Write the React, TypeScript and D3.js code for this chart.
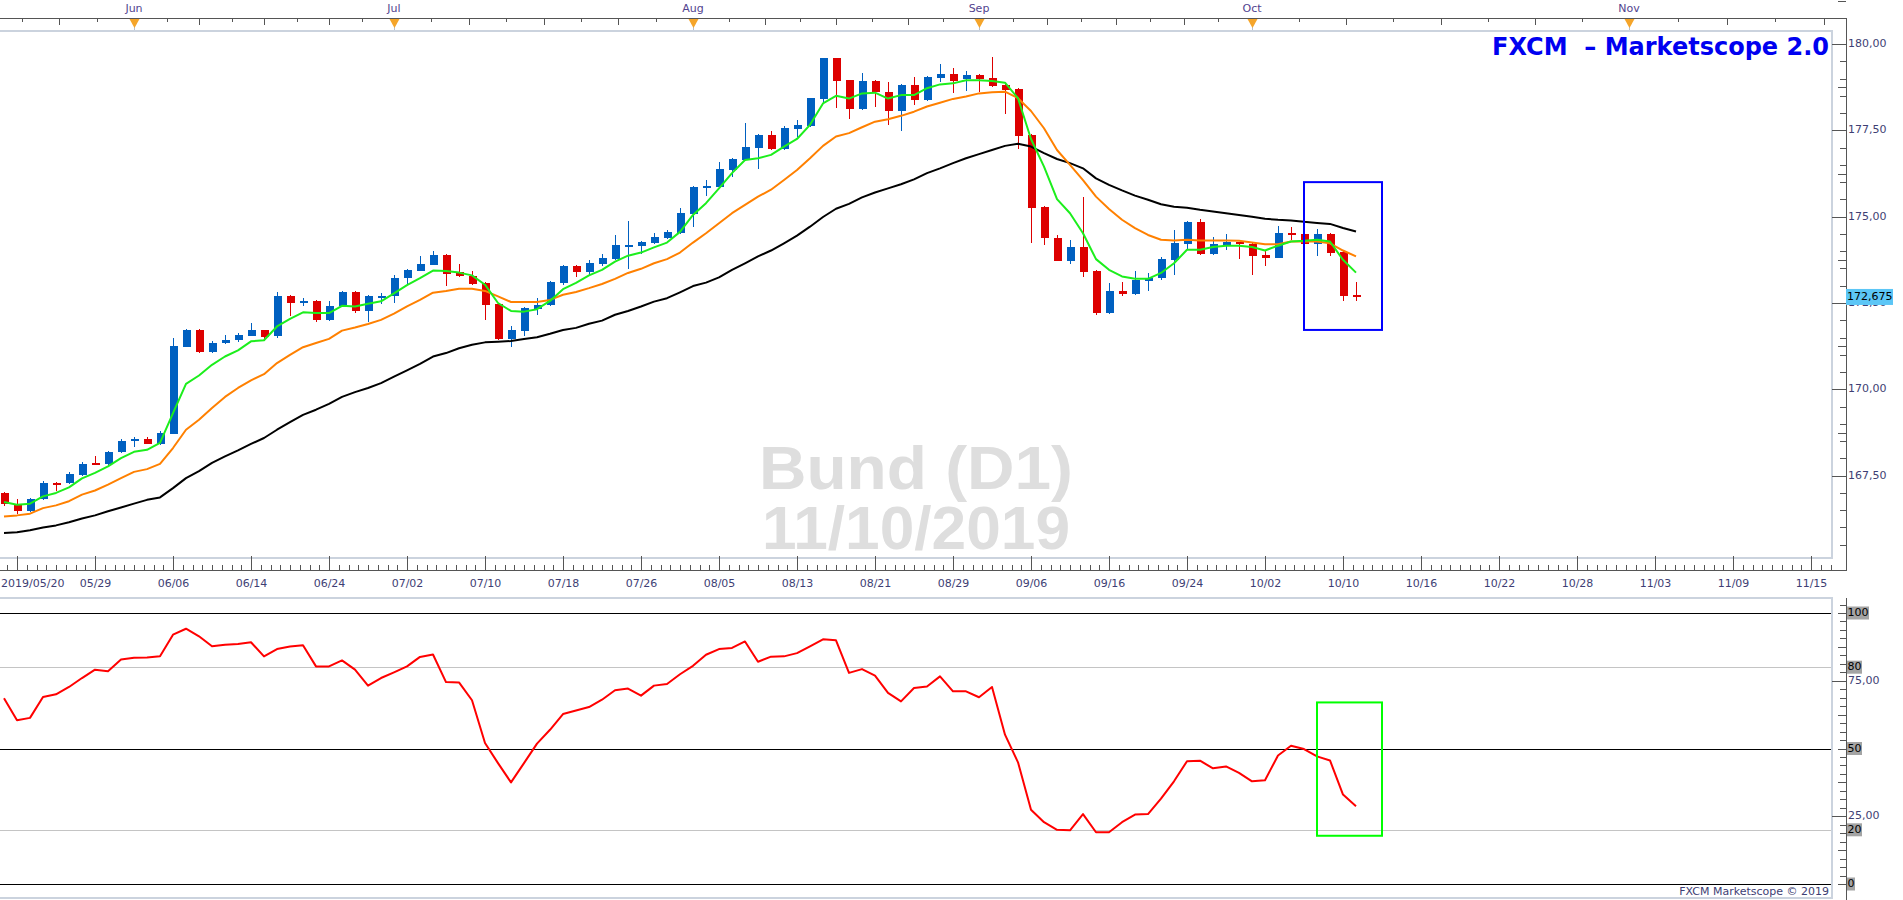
import React, { useEffect, useRef } from 'react';
import * as d3 from 'd3';

// daily bars, weekdays only, 2019-05-20 .. 2019-10-11
const firstDay = new Date(2019, 4, 20);
const lastDay = new Date(2019, 9, 11);
const barDates = d3.timeDay
  .range(firstDay, d3.timeDay.offset(lastDay, 1))
  .filter(d => d.getDay() !== 0 && d.getDay() !== 6);

const open = [
  167.00, 166.64, 166.47, 166.81, 167.30, 167.28, 167.53, 167.86, 167.83, 168.18,
  168.49, 168.57, 168.43, 168.72, 171.24, 171.72, 171.07, 171.33, 171.42, 171.55,
  171.72, 171.53, 172.71, 172.49, 172.56, 172.01, 172.42, 172.82, 172.28, 172.69,
  172.69, 173.21, 173.44, 173.61, 173.89, 173.39, 173.27, 173.08, 172.47, 171.46,
  171.70, 172.32, 172.43, 173.09, 173.58, 173.40, 173.63, 173.78, 174.15, 174.16,
  174.24, 174.39, 174.53, 175.08, 175.86, 175.86, 176.35, 176.64, 177.00, 177.37,
  176.96, 177.54, 177.63, 178.41, 179.59, 178.96, 178.12, 178.93, 178.61, 178.06,
  178.81, 178.38, 179.02, 179.13, 178.99, 179.10, 179.02, 178.81, 178.70, 177.37,
  175.28, 174.39, 173.73, 174.13, 173.43, 172.20, 172.85, 172.75, 173.15, 173.21,
  173.75, 174.21, 174.85, 173.92, 174.18, 174.27, 174.21, 173.89, 173.81, 174.53,
  174.50, 174.21, 174.50, 173.98, 172.74,
];
const high = [
  167.04, 166.83, 166.85, 167.36, 167.31, 167.62, 167.89, 168.08, 168.20, 168.57,
  168.63, 168.63, 168.78, 171.49, 171.75, 171.74, 171.39, 171.58, 171.63, 171.93,
  171.73, 172.82, 172.72, 172.65, 172.58, 172.56, 172.85, 172.84, 172.72, 172.80,
  173.30, 173.48, 173.87, 174.01, 173.92, 173.63, 173.42, 173.10, 172.50, 171.84,
  172.37, 172.65, 173.13, 173.60, 173.60, 173.75, 173.92, 174.47, 174.88, 174.30,
  174.53, 174.62, 175.25, 175.90, 176.06, 176.59, 176.70, 177.71, 177.40, 177.48,
  177.63, 177.80, 178.45, 179.60, 179.60, 178.97, 179.16, 178.95, 178.90, 178.83,
  179.05, 179.07, 179.42, 179.31, 179.22, 179.12, 179.62, 178.83, 178.72, 177.40,
  175.30, 174.47, 174.33, 175.57, 173.45, 173.08, 173.11, 173.43, 173.37, 173.84,
  174.62, 174.87, 174.94, 174.42, 174.50, 174.28, 174.23, 174.01, 174.73, 174.70,
  174.70, 174.65, 174.52, 174.00, 173.11,
];
const low = [
  166.61, 166.40, 166.45, 166.79, 167.05, 167.25, 167.50, 167.83, 167.82, 168.16,
  168.33, 168.42, 168.38, 168.70, 171.22, 171.05, 171.04, 171.32, 171.38, 171.53,
  171.44, 171.50, 172.11, 172.40, 171.94, 171.98, 172.40, 172.20, 171.94, 172.48,
  172.49, 173.06, 173.42, 173.60, 172.98, 173.25, 173.02, 172.01, 171.44, 171.24,
  171.53, 172.16, 172.40, 173.03, 173.26, 173.32, 173.58, 173.75, 173.49, 173.92,
  174.20, 174.36, 174.50, 174.71, 175.61, 175.84, 176.16, 176.62, 176.38, 176.92,
  176.93, 177.31, 177.60, 178.32, 178.15, 177.83, 178.10, 178.18, 177.66, 177.48,
  178.24, 178.36, 178.90, 178.58, 178.64, 178.61, 178.75, 177.97, 176.96, 174.24,
  174.18, 173.71, 173.63, 173.24, 172.16, 172.18, 172.69, 172.73, 172.86, 173.18,
  173.30, 174.07, 173.90, 173.90, 174.04, 173.78, 173.32, 173.58, 173.79, 174.33,
  174.18, 173.87, 173.85, 172.56, 172.56,
];
const close = [
  166.68, 166.47, 166.83, 167.30, 167.28, 167.56, 167.85, 167.84, 168.19, 168.51,
  168.57, 168.43, 168.74, 171.26, 171.72, 171.07, 171.35, 171.44, 171.58, 171.72,
  171.52, 172.71, 172.49, 172.57, 172.02, 172.42, 172.82, 172.28, 172.70, 172.71,
  173.23, 173.46, 173.63, 173.89, 173.35, 173.27, 173.06, 172.45, 171.46, 171.72,
  172.35, 172.45, 173.11, 173.58, 173.40, 173.66, 173.81, 174.18, 174.17, 174.27,
  174.42, 174.56, 175.11, 175.86, 175.88, 176.38, 176.67, 177.02, 177.37, 176.96,
  177.57, 177.66, 178.44, 179.59, 178.93, 178.12, 178.93, 178.61, 178.06, 178.81,
  178.38, 179.05, 179.13, 178.93, 179.10, 178.99, 178.78, 178.67, 177.34, 175.25,
  174.37, 173.73, 174.13, 173.41, 172.20, 172.85, 172.75, 173.17, 173.22, 173.78,
  174.24, 174.85, 173.92, 174.21, 174.27, 174.21, 173.87, 173.81, 174.53, 174.47,
  174.21, 174.50, 173.95, 172.71, 172.675,
];

// moving averages (green, orange, black)
const maFast = [
  166.74, 166.66, 166.69, 166.90, 167.00, 167.16, 167.42, 167.58, 167.77, 168.01,
  168.19, 168.25, 168.45, 169.31, 170.16, 170.40, 170.71, 170.95, 171.13, 171.39,
  171.42, 171.82, 172.04, 172.23, 172.21, 172.21, 172.42, 172.40, 172.48, 172.55,
  172.78, 173.02, 173.22, 173.44, 173.43, 173.38, 173.30, 173.03, 172.50, 172.27,
  172.25, 172.32, 172.56, 172.90, 173.08, 173.30, 173.46, 173.70, 173.87, 173.96,
  174.11, 174.25, 174.56, 175.05, 175.39, 175.82, 176.26, 176.64, 176.69, 176.79,
  177.03, 177.25, 177.66, 178.28, 178.50, 178.42, 178.57, 178.59, 178.42, 178.52,
  178.52, 178.72, 178.83, 178.86, 178.95, 178.95, 178.93, 178.88, 178.43, 177.25,
  176.45, 175.51, 175.10, 174.52, 173.77, 173.46, 173.27, 173.20, 173.20, 173.37,
  173.65, 174.04, 174.04, 174.12, 174.16, 174.16, 174.12, 174.02, 174.16, 174.28,
  174.30, 174.33, 174.28, 173.75, 173.38,
];
const maMid = [
  166.32, 166.35, 166.40, 166.56, 166.64, 166.76, 166.95, 167.07, 167.24, 167.43,
  167.61, 167.69, 167.84, 168.30, 168.83, 169.12, 169.46, 169.78, 170.04, 170.26,
  170.44, 170.76, 171.00, 171.22, 171.34, 171.46, 171.70, 171.79, 171.89, 172.01,
  172.19, 172.40, 172.59, 172.80, 172.85, 172.91, 172.91, 172.85, 172.69, 172.53,
  172.53, 172.53, 172.59, 172.74, 172.82, 172.93, 173.05, 173.20, 173.37, 173.49,
  173.65, 173.77, 173.96, 174.25, 174.52, 174.81, 175.10, 175.34, 175.58, 175.78,
  176.06, 176.35, 176.69, 177.05, 177.32, 177.42, 177.59, 177.75, 177.82, 177.92,
  178.04, 178.19, 178.30, 178.41, 178.48, 178.57, 178.60, 178.62, 178.43, 178.06,
  177.56, 176.93, 176.50, 176.06, 175.58, 175.22, 174.91, 174.67, 174.47, 174.33,
  174.31, 174.33, 174.31, 174.31, 174.31, 174.30, 174.25, 174.20, 174.20, 174.28,
  174.28, 174.28, 174.23, 174.02, 173.85,
];
const maSlow = [
  165.84, 165.86, 165.92, 166.00, 166.06, 166.15, 166.26, 166.35, 166.47, 166.58,
  166.69, 166.80, 166.87, 167.14, 167.43, 167.63, 167.87, 168.06, 168.23, 168.42,
  168.59, 168.83, 169.05, 169.26, 169.41, 169.58, 169.78, 169.92, 170.04, 170.18,
  170.37, 170.55, 170.74, 170.95, 171.05, 171.19, 171.29, 171.36, 171.38, 171.40,
  171.46, 171.51, 171.61, 171.72, 171.78, 171.90, 171.99, 172.16, 172.27, 172.40,
  172.54, 172.64, 172.81, 172.99, 173.09, 173.24, 173.46, 173.65, 173.85, 174.02,
  174.23, 174.45, 174.71, 174.99, 175.23, 175.37, 175.56, 175.70, 175.82, 175.94,
  176.08, 176.26, 176.40, 176.55, 176.69, 176.81, 176.93, 177.05, 177.11, 177.03,
  176.84, 176.67, 176.55, 176.40, 176.11, 175.92, 175.76, 175.61, 175.49, 175.36,
  175.29, 175.26, 175.20, 175.15, 175.10, 175.05, 175.00, 174.94, 174.91, 174.89,
  174.85, 174.82, 174.79, 174.67, 174.57,
];

// oscillator (lower panel)
const oscValues = [
  68.5, 60.4, 61.3, 69.0, 70.0, 72.7, 76.0, 79.1, 78.5, 82.8,
  83.5, 83.6, 84.0, 92.0, 94.2, 91.4, 87.7, 88.3, 88.6, 89.2,
  84.0, 86.7, 87.6, 88.1, 80.3, 80.3, 82.5, 79.1, 73.2, 76.0,
  78.1, 80.3, 83.8, 84.7, 74.5, 74.4, 67.8, 52.0, 44.6, 37.5,
  44.6, 51.8, 56.9, 62.7, 64.0, 65.3, 68.0, 71.5, 72.1, 69.5,
  73.2, 73.8, 77.4, 80.5, 84.6, 86.7, 87.1, 89.5, 82.0, 83.9,
  84.0, 85.2, 87.7, 90.3, 89.9, 77.9, 79.3, 76.9, 70.5, 67.4,
  72.3, 72.9, 76.6, 71.1, 71.1, 68.9, 72.7, 55.1, 44.9, 27.4,
  22.8, 20.0, 19.8, 25.8, 19.1, 19.1, 22.8, 25.6, 25.8, 31.5,
  37.9, 45.3, 45.5, 42.7, 43.4, 41.0, 37.9, 38.3, 47.4, 51.0,
  49.8, 47.1, 45.6, 33.0, 28.7,
];

const dateLabels = [
  '2019/05/20', '05/29', '06/06', '06/14', '06/24', '07/02', '07/10', '07/18',
  '07/26', '08/05', '08/13', '08/21', '08/29', '09/06', '09/16', '09/24',
  '10/02', '10/10', '10/16', '10/22', '10/28', '11/03', '11/09', '11/15',
];
const monthStarts = d3.timeMonth.range(new Date(2019, 4, 1), new Date(2019, 11, 2));
const priceTicks = [167.5, 170, 172.5, 175, 177.5, 180];
const oscTicks = [25, 75];
const oscLevels = [100, 80, 50, 20, 0];
const lastPrice = 172.675;
const watermark = ['Bund (D1)', '11/10/2019'];

// highlight boxes: bar slots and value ranges
const priceBox = { from: 100, to: 106, top: 176.0, bottom: 171.72 };
const oscBox = { from: 101, to: 106, top: 67, bottom: 17.8 };

const W = 1903;
const H = 900;
const plotRight = 1832;
const axisX = 1846;
const mainTop = 31;
const mainBottom = 558;
const oscTop = 598;
const oscBottom = 898;
const axisFont = '"DejaVu Sans", Verdana, sans-serif';
const axisColor = '#3e3e74';
const BLUE = '#0060c0';
const RED = '#dd0000';

// bar slot of a calendar date: trading days up to the last bar, calendar days after it
function slotOf(d: Date): number {
  const isWeekday = (t: Date) => t.getDay() !== 0 && t.getDay() !== 6;
  if (d < firstDay) return -d3.timeDay.range(d, firstDay).filter(isWeekday).length;
  if (d <= lastDay) return d3.timeDay.range(firstDay, d).filter(isWeekday).length;
  return barDates.length - 1 + d3.timeDay.count(lastDay, d);
}

const fmt = (v: number, p = 2) => d3.format(`.${p}f`)(v).replace('.', ',');

const App: React.FC = () => {
  const svgRef = useRef<SVGSVGElement | null>(null);

  useEffect(() => {
    if (!svgRef.current) return;
    const svg = d3.select(svgRef.current);
    svg.selectAll('*').remove();

    const xs = d3.scaleLinear().domain([0, 1]).range([4, 17]);
    const ys = d3.scaleLinear().domain([165, 180]).range([562, 44]);
    const yo = d3.scaleLinear().domain([0, 100]).range([884, 613]);

    svg.append('rect').attr('width', W).attr('height', H).attr('fill', '#fff');

    const defs = svg.append('defs');
    defs.append('clipPath').attr('id', 'mainClip')
      .append('rect').attr('x', 0).attr('y', mainTop).attr('width', plotRight).attr('height', mainBottom - mainTop);
    defs.append('clipPath').attr('id', 'oscClip')
      .append('rect').attr('x', 0).attr('y', oscTop).attr('width', plotRight).attr('height', oscBottom - oscTop);

    // ---- top time axis (months)
    const top = svg.append('g').attr('shape-rendering', 'crispEdges');
    top.append('line').attr('x1', 0).attr('x2', axisX).attr('y1', 18.5).attr('y2', 18.5).attr('stroke', '#555');
    const monthX = monthStarts.map(m => xs(slotOf(m)));
    for (let m = 0; m < monthX.length - 1; m++) {
      for (let k = 1; k < 8; k++) {
        const x = Math.round(monthX[m] + (monthX[m + 1] - monthX[m]) * k / 8) + 0.5;
        if (x < 0 || x > axisX) continue;
        top.append('line').attr('x1', x).attr('x2', x).attr('y1', 18).attr('y2', k % 2 === 0 ? 25 : 22)
          .attr('stroke', '#555');
      }
    }
    monthStarts.forEach((m, i) => {
      const x = monthX[i];
      if (x < 0 || x > plotRight) return;
      top.append('line').attr('x1', x + 0.5).attr('x2', x + 0.5).attr('y1', 19).attr('y2', 31).attr('stroke', '#b8c0cc');
      svg.append('path').attr('d', `M${x - 4.5},19 L${x + 5.5},19 L${x + 0.5},28 Z`).attr('fill', '#f5a52a');
      svg.append('text').attr('x', x).attr('y', 9).attr('text-anchor', 'middle').attr('dominant-baseline', 'middle')
        .attr('font-family', axisFont).attr('font-size', 11).attr('fill', '#52438e')
        .text(d3.timeFormat('%b')(m));
    });

    // ---- main panel frame
    const frame = svg.append('g').attr('fill', 'none').attr('stroke', '#cbd3de').attr('stroke-width', 2);
    frame.append('line').attr('x1', 0).attr('x2', plotRight + 1).attr('y1', mainTop).attr('y2', mainTop);
    frame.append('line').attr('x1', plotRight).attr('x2', plotRight).attr('y1', mainTop).attr('y2', mainBottom);
    frame.append('line').attr('x1', 0).attr('x2', plotRight + 1).attr('y1', mainBottom).attr('y2', mainBottom);

    // watermark (one text, two lines)
    const wm = svg.append('text').attr('font-family', '"Liberation Sans", Arial, sans-serif').attr('font-weight', 'bold')
      .attr('font-size', 62).attr('fill', '#dedede').attr('text-anchor', 'middle');
    wm.append('tspan').attr('x', 916).attr('y', 489).attr('textLength', 314).attr('lengthAdjust', 'spacingAndGlyphs')
      .text(watermark[0]);
    wm.append('tspan').attr('x', 916).attr('y', 549).attr('textLength', 308).attr('lengthAdjust', 'spacingAndGlyphs')
      .text(watermark[1]);

    // ---- candles
    const plot = svg.append('g').attr('clip-path', 'url(#mainClip)');
    const candles = plot.append('g').attr('shape-rendering', 'crispEdges');
    open.forEach((o, i) => {
      const c = close[i];
      const col = c >= o ? BLUE : RED;
      const x = Math.round(xs(i));
      candles.append('line').attr('x1', x + 0.5).attr('x2', x + 0.5)
        .attr('y1', ys(high[i])).attr('y2', ys(low[i])).attr('stroke', col).attr('stroke-width', 1);
      const yTop = ys(Math.max(o, c));
      const h = Math.max(2, ys(Math.min(o, c)) - yTop);
      candles.append('rect').attr('x', x - 3.5).attr('y', yTop).attr('width', 8).attr('height', h).attr('fill', col);
    });

    // ---- moving averages
    const maLine = d3.line<number>().x((_, i) => xs(i)).y(d => ys(d));
    [[maSlow, '#000'], [maMid, '#ff8000'], [maFast, '#1cee1c']].forEach(([data, color]) => {
      plot.append('path').datum(data as number[]).attr('d', maLine).attr('fill', 'none')
        .attr('stroke', color as string).attr('stroke-width', 2).attr('stroke-linejoin', 'round');
    });

    // highlight box
    svg.append('rect')
      .attr('x', xs(priceBox.from)).attr('y', ys(priceBox.top))
      .attr('width', xs(priceBox.to) - xs(priceBox.from)).attr('height', ys(priceBox.bottom) - ys(priceBox.top))
      .attr('fill', 'none').attr('stroke', '#0000ff').attr('stroke-width', 2);

    // ---- right price axis
    const ax = svg.append('g').attr('shape-rendering', 'crispEdges');
    ax.append('line').attr('x1', axisX + 0.5).attr('x2', axisX + 0.5).attr('y1', 18).attr('y2', 571).attr('stroke', '#555');
    for (let v = 165.5; v <= 180.5; v += 0.5) {
      const y = Math.round(ys(v)) + 0.5;
      if (y < mainTop || y > mainBottom) continue;
      ax.append('line').attr('x1', axisX - 6).attr('x2', axisX).attr('y1', y).attr('y2', y).attr('stroke', '#555');
    }
    priceTicks.forEach(v => {
      const y = Math.round(ys(v)) + 0.5;
      ax.append('line').attr('x1', plotRight).attr('x2', axisX).attr('y1', y).attr('y2', y).attr('stroke', '#555');
      ax.append('line').attr('x1', axisX - 8).attr('x2', axisX).attr('y1', Math.round(ys(v + 1.25)) + 0.5)
        .attr('y2', Math.round(ys(v + 1.25)) + 0.5).attr('stroke', '#555');
      svg.append('text').attr('x', axisX + 2).attr('y', ys(v)).attr('dominant-baseline', 'middle')
        .attr('font-family', axisFont).attr('font-size', 11).attr('fill', axisColor).text(fmt(v));
    });
    // last price tag
    svg.append('rect').attr('x', axisX).attr('y', ys(lastPrice) - 8).attr('width', 47).attr('height', 16).attr('fill', '#5cc6f6');
    svg.append('text').attr('x', axisX + 1).attr('y', ys(lastPrice)).attr('dominant-baseline', 'middle')
      .attr('font-family', axisFont).attr('font-size', 11).attr('fill', '#000').text(fmt(lastPrice, 3));

    // ---- bottom date axis
    const bx = svg.append('g').attr('shape-rendering', 'crispEdges');
    bx.append('line').attr('x1', 0).attr('x2', axisX).attr('y1', 570.5).attr('y2', 570.5).attr('stroke', '#555');
    for (let s = 1 - 0.75; s <= 1 + 6 * dateLabels.length; s += 0.75) {
      const x = Math.round(xs(s)) + 0.5;
      if (x < 0 || x > plotRight) continue;
      bx.append('line').attr('x1', x).attr('x2', x).attr('y1', 565).attr('y2', 570).attr('stroke', '#555');
    }
    dateLabels.forEach((lab, k) => {
      const x = Math.round(xs(1 + 6 * k)) + 0.5;
      bx.append('line').attr('x1', x).attr('x2', x).attr('y1', 556).attr('y2', 570).attr('stroke', '#555');
      const t = svg.append('text').attr('x', x).attr('y', 584).attr('dominant-baseline', 'middle')
        .attr('text-anchor', k === 0 ? 'start' : 'middle')
        .attr('font-family', axisFont).attr('font-size', 11).attr('fill', axisColor).text(lab);
      if (k === 0) t.attr('x', 1);
    });

    // ---- oscillator panel
    const of = svg.append('g').attr('fill', 'none').attr('stroke', '#cbd3de').attr('stroke-width', 2);
    of.append('line').attr('x1', 0).attr('x2', plotRight + 1).attr('y1', oscTop).attr('y2', oscTop);
    of.append('line').attr('x1', plotRight).attr('x2', plotRight).attr('y1', oscTop).attr('y2', oscBottom);
    of.append('line').attr('x1', 0).attr('x2', plotRight + 1).attr('y1', oscBottom).attr('y2', oscBottom);

    const lv = svg.append('g').attr('shape-rendering', 'crispEdges');
    oscLevels.forEach(v => {
      const y = Math.round(yo(v)) + 0.5;
      lv.append('line').attr('x1', 0).attr('x2', plotRight - 1).attr('y1', y).attr('y2', y)
        .attr('stroke', v === 80 || v === 20 ? '#c4c4c4' : '#000').attr('stroke-width', 1);
    });

    svg.append('g').attr('clip-path', 'url(#oscClip)').append('path').datum(oscValues)
      .attr('d', d3.line<number>().x((_, i) => xs(i)).y(d => yo(d)))
      .attr('fill', 'none').attr('stroke', '#ff0000').attr('stroke-width', 2).attr('stroke-linejoin', 'round');

    svg.append('rect')
      .attr('x', xs(oscBox.from)).attr('y', yo(oscBox.top))
      .attr('width', xs(oscBox.to) - xs(oscBox.from)).attr('height', yo(oscBox.bottom) - yo(oscBox.top))
      .attr('fill', 'none').attr('stroke', '#00ff00').attr('stroke-width', 2);

    const oa = svg.append('g').attr('shape-rendering', 'crispEdges');
    oa.append('line').attr('x1', axisX + 0.5).attr('x2', axisX + 0.5).attr('y1', oscTop).attr('y2', H).attr('stroke', '#555');
    for (let v = 0; v <= 106; v += 3.125) {
      const y = Math.round(yo(v)) + 0.5;
      if (y < oscTop) continue;
      const isMid = Math.abs((v % 12.5)) < 0.01;
      oa.append('line').attr('x1', axisX - (isMid ? 8 : 6)).attr('x2', axisX).attr('y1', y).attr('y2', y).attr('stroke', '#555');
    }
    oscTicks.forEach(v => {
      const y = Math.round(yo(v)) + 0.5;
      oa.append('line').attr('x1', plotRight).attr('x2', axisX).attr('y1', y).attr('y2', y).attr('stroke', '#555');
      svg.append('text').attr('x', axisX + 2).attr('y', yo(v)).attr('dominant-baseline', 'middle')
        .attr('font-family', axisFont).attr('font-size', 11).attr('fill', axisColor).text(fmt(v));
    });
    oscLevels.forEach(v => {
      const label = String(v);
      const w = label.length * 7 + 1;
      svg.append('rect').attr('x', axisX + 1).attr('y', yo(v) - 6.5).attr('width', w).attr('height', 13).attr('fill', '#a4a4a4');
      svg.append('text').attr('x', axisX + 1.5).attr('y', yo(v)).attr('dominant-baseline', 'middle')
        .attr('font-family', axisFont).attr('font-size', 11).attr('fill', '#000').text(label);
    });

    // ---- titles
    svg.append('text').attr('x', 1829).attr('y', 55).attr('text-anchor', 'end')
      .attr('font-family', '"DejaVu Sans", Verdana, sans-serif').attr('font-weight', 'bold').attr('font-size', 24)
      .attr('fill', '#0000f0').attr('xml:space', 'preserve').style('white-space', 'pre')
      .text('FXCM  \u2013 Marketscope 2.0');
    svg.append('text').attr('x', 1829).attr('y', 892).attr('text-anchor', 'end').attr('dominant-baseline', 'middle')
      .attr('font-family', axisFont).attr('font-size', 11).attr('fill', axisColor)
      .text('FXCM Marketscope \u00a9 2019');
  }, []);

  return (
    <svg ref={svgRef} width={W} height={H} style={{ position: 'absolute', left: 0, top: 0, display: 'block' }} />
  );
};

export default App;
